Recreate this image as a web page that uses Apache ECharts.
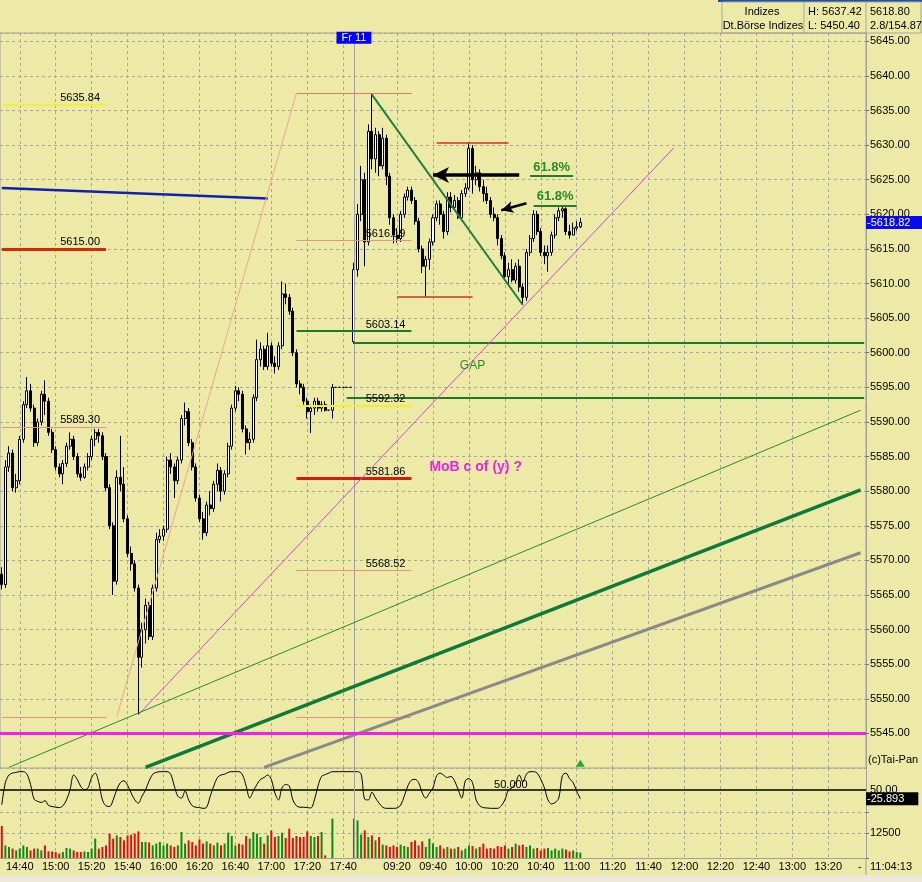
<!DOCTYPE html>
<html><head><meta charset="utf-8">
<script src="https://cdn.jsdelivr.net/npm/echarts/dist/echarts.min.js"></script>
<style>html,body{margin:0;padding:0;background:#EDEAA8;}#c{width:922px;height:882px;}</style>
</head><body><div id="c"></div>
<script>
// ---------- sessions & tick labels ----------
const sessionDay1 = ['14:30', '17:44'];
const sessionDay2 = ['08:56', '13:40'];
const tickLabels = ['14:40','15:00','15:20','15:40','16:00','16:20','16:40','17:00','17:20','17:40',
  '09:20','09:40','10:00','10:20','10:40','11:00','11:20','11:40','12:00','12:20','12:40','13:00','13:20'];

// ---------- 2-minute candles [open, close, low, high] ----------
const priceDay1 = [
[5568.0,5566.5,5565.8,5569.0],[5566.5,5583.5,5566.0,5584.5],[5583.5,5585.5,5582.8,5586.5],[5585.5,5580.5,5580.0,5586.0],
[5580.5,5581.5,5579.8,5582.5],[5581.5,5587.5,5581.0,5588.0],[5587.5,5592.5,5587.0,5593.0],[5592.5,5594.5,5592.0,5596.5],
[5594.5,5592.0,5591.5,5595.5],[5592.0,5587.0,5586.4,5592.5],[5587.0,5590.0,5586.5,5590.5],[5590.0,5594.0,5589.5,5594.5],
[5594.0,5593.0,5591.0,5596.0],[5593.0,5588.5,5588.0,5593.5],[5588.5,5586.0,5585.5,5589.0],[5586.0,5583.5,5583.0,5586.5],
[5583.5,5582.5,5582.0,5584.0],[5582.5,5584.0,5581.0,5584.5],[5584.0,5586.5,5583.5,5587.0],[5586.5,5587.5,5586.0,5588.5],
[5587.5,5585.0,5584.5,5588.0],[5585.0,5582.5,5582.0,5585.5],[5582.5,5582.0,5581.5,5583.5],[5582.0,5583.5,5581.8,5584.0],
[5583.5,5585.0,5583.0,5585.5],[5585.0,5587.5,5584.5,5588.0],[5587.5,5588.5,5586.5,5589.0],[5588.5,5588.0,5587.0,5589.0],
[5588.0,5585.0,5584.5,5588.5],[5585.0,5580.5,5580.0,5585.5],[5580.5,5575.0,5574.5,5581.0],[5575.0,5567.0,5565.0,5575.5],
[5567.0,5582.0,5566.5,5583.0],[5582.0,5581.0,5580.0,5588.0],[5581.0,5576.0,5575.5,5583.5],[5576.0,5571.0,5570.5,5576.5],
[5571.0,5569.5,5568.5,5572.0],[5569.5,5566.0,5565.5,5570.0],[5566.0,5556.0,5547.7,5566.5],[5556.0,5560.0,5554.5,5561.0],
[5560.0,5563.5,5558.0,5564.5],[5563.5,5559.0,5558.5,5564.0],[5559.0,5566.0,5558.5,5566.5],[5566.0,5573.0,5565.5,5574.0],
[5573.0,5573.5,5572.5,5574.5],[5573.5,5574.5,5572.8,5575.0],[5574.5,5584.5,5574.0,5585.0],[5584.5,5583.5,5582.5,5585.5],
[5583.5,5581.5,5579.0,5584.0],[5581.5,5584.5,5581.0,5585.0],[5584.5,5590.5,5584.0,5591.0],[5590.5,5591.5,5589.5,5592.8],
[5591.5,5587.0,5586.5,5592.0],[5587.0,5583.5,5583.0,5587.5],[5583.5,5579.0,5578.5,5584.0],[5579.0,5576.0,5575.5,5579.5],
[5576.0,5574.0,5573.0,5577.0],[5574.0,5578.0,5573.5,5578.5],[5578.0,5577.5,5576.5,5580.0],[5577.5,5581.0,5577.0,5581.5],
[5581.0,5583.0,5580.0,5584.0],[5583.0,5580.0,5578.5,5583.5],[5580.0,5582.5,5579.5,5583.0],[5582.5,5586.5,5582.0,5587.0],
[5586.5,5592.0,5586.0,5592.5],[5592.0,5594.5,5591.5,5595.2],[5594.5,5594.0,5593.0,5595.0],[5594.0,5589.0,5588.5,5594.5],
[5589.0,5587.0,5585.3,5589.5],[5587.0,5587.5,5586.0,5588.5],[5587.5,5593.5,5587.0,5594.0],[5593.5,5599.0,5593.0,5601.9],
[5599.0,5600.5,5598.0,5601.5],[5600.5,5598.0,5597.5,5601.0],[5598.0,5601.0,5597.5,5602.9],[5601.0,5598.5,5598.0,5601.5],
[5598.5,5598.0,5597.0,5599.5],[5598.0,5601.0,5597.5,5601.5],[5601.0,5608.5,5600.5,5610.3],[5608.5,5608.0,5607.0,5610.0],
[5608.0,5606.0,5605.5,5608.5],[5606.0,5600.0,5599.5,5606.5],[5600.0,5595.5,5595.0,5600.5],[5595.5,5595.0,5594.0,5596.0],
[5595.0,5593.0,5592.5,5595.5],[5593.0,5591.5,5590.5,5593.5],[5591.5,5592.0,5588.4,5592.5],[5592.0,5593.0,5591.0,5593.5],
[5593.0,5592.0,5591.5,5593.5],[5592.0,5592.5,5591.5,5593.0],[5592.5,5591.7,5591.5,5593.0],[5591.7,5591.7,5591.7,5591.7],
[5591.7,5595.0,5590.5,5595.5],[5595.0,5595.0,5595.0,5595.0],[5595.0,5595.0,5595.0,5595.0],[5595.0,5595.0,5595.0,5595.0],
[5595.0,5595.0,5595.0,5595.0],[5595.0,5595.0,5595.0,5595.0]
];
const priceDay2 = [
[5601.6,5612.0,5601.3,5613.0],[5612.0,5620.0,5611.0,5621.5],[5620.0,5625.0,5619.0,5627.0],[5625.0,5616.0,5612.5,5626.0],
[5616.0,5632.0,5615.5,5633.0],[5632.0,5628.0,5626.5,5637.4],[5628.0,5631.5,5626.0,5632.5],[5631.5,5627.0,5625.5,5632.0],
[5627.0,5631.0,5626.5,5632.5],[5631.0,5625.5,5624.2,5631.5],[5625.5,5619.5,5618.5,5626.0],[5619.5,5617.0,5615.8,5620.0],
[5617.0,5616.5,5615.9,5618.0],[5616.5,5620.0,5616.0,5620.5],[5620.0,5622.5,5619.5,5623.0],[5622.5,5623.5,5622.0,5624.0],
[5623.5,5622.0,5621.5,5624.0],[5622.0,5619.0,5618.5,5622.5],[5619.0,5615.0,5614.5,5619.5],[5615.0,5612.5,5611.5,5615.5],
[5612.5,5613.5,5608.1,5614.0],[5613.5,5616.0,5612.0,5616.5],[5616.0,5619.5,5615.5,5620.0],[5619.5,5621.5,5619.0,5622.0],
[5621.5,5620.0,5618.5,5622.0],[5620.0,5617.5,5616.5,5620.5],[5617.5,5622.5,5617.0,5623.2],[5622.5,5621.0,5620.3,5623.2],
[5621.0,5622.0,5620.8,5622.8],[5622.0,5619.5,5619.3,5622.5],[5619.5,5623.0,5619.0,5623.5],[5623.0,5623.8,5622.5,5624.5],
[5623.8,5629.5,5623.5,5630.3],[5629.5,5625.0,5623.0,5630.0],[5625.0,5626.0,5624.2,5627.0],[5626.0,5624.0,5623.3,5626.5],
[5624.0,5623.0,5621.8,5625.0],[5623.0,5622.0,5621.5,5624.0],[5622.0,5620.0,5619.5,5622.5],[5620.0,5619.5,5619.0,5621.0],
[5619.5,5616.5,5615.5,5620.0],[5616.5,5614.0,5613.5,5617.0],[5614.0,5611.0,5610.8,5614.5],[5611.0,5612.0,5609.8,5613.0],
[5612.0,5610.5,5610.2,5613.5],[5610.5,5612.5,5610.0,5613.0],[5612.5,5609.5,5608.8,5613.5],[5609.5,5608.0,5606.9,5610.0],
[5608.0,5614.5,5607.5,5615.0],[5614.5,5616.5,5614.0,5617.0],[5616.5,5620.0,5616.0,5620.6],[5620.0,5617.5,5617.0,5620.5],
[5617.5,5614.5,5614.0,5618.0],[5614.5,5614.0,5612.8,5615.5],[5614.0,5614.5,5611.7,5615.5],[5614.5,5617.0,5614.0,5617.5],
[5617.0,5619.5,5616.5,5620.0],[5619.5,5620.5,5619.0,5621.0],[5620.5,5620.8,5619.5,5621.2],[5620.8,5617.5,5617.0,5621.0],
[5617.5,5617.0,5616.5,5618.5],[5617.0,5618.0,5617.0,5618.8],[5618.0,5618.2,5617.6,5619.0],[5618.2,5618.82,5618.0,5619.5]
];
const lastPrice = 5618.82;

// ---------- oscillator (0..100) ----------
const oscValues = [
10,70,91,96,98,100,100,93,65,25, 19,16,21,8,5,3,2,7,23,51, 91,79,59,51,56,84,96,70,23,7,
5,23,51,70,75,63,42,23,14,33, 50,75,93,98,100,100,100,93,61,33, 28,47,23,7,3,2,0,3,33,61,
84,91,93,98,100,100,100,91,61,28, 47,65,79,84,91,79,42,23,56,65, 61,23,7,3,3,2,1,23,61,87,
92,96,100,100,100,100,100,100,
100,100,93,25,23,44,28,14,3,0, 0,0,1,9,33,61,77,79,70,42, 28,42,56,89,96,90,84,87,75,51,
28,75,81,70,23,7,2,1,0,0, 0,7,23,50,56,70,91,72,93,100, 100,96,79,56,23,12,16,28,89,96,
81,70,47,25.9
];
const oscLast = 25.893;
const oscMid = 50;

// ---------- volume ----------
const volumeValues = [
16000,6300,5500,4700,3800,4700,6300,5500,3800,4700, 4700,3800,6300,3300,3300,3000,2200,3000,5000,4700,
3800,3000,3000,3300,3000,4700,9700,4700,5500,6300, 12200,9700,11300,10500,8800,11300,11700,12200,13300,8000,
8000,7700,6300,7200,8000,6300,7200,6300,5500,6300, 13000,7200,8800,8000,6300,9300,7200,8300,7200,6300,
7700,6300,7200,12700,11000,6300,7200,6700,11000,9700, 13000,12200,10500,7200,11300,13800,10500,11000,12700,10000,
14700,10000,11000,10500,10500,13300,11000,10500,11000,13000, 1300,0,19700,0,0,0,0,0,
19700,18800,11700,13800,10500,11300,8800,10500,6700,6300, 5500,6300,5500,6700,6000,5500,8000,8800,6300,8300,
5500,9700,7200,5500,6300,4700,5500,4700,4700,5500, 3800,4700,6300,6000,4700,5500,7200,4700,5000,4700,
6000,5500,6300,4700,5500,7200,6300,6700,5500,6300, 4700,5000,3800,4700,5000,3800,4700,3800,4700,4200,
3300,3800,3000,2700
];
const volumeTick = 12500;

// ---------- drawn annotations (time, price) ----------
const leftLevels = [ // [from, to, price, text]
  ['14:30','15:28',5635.84,'5635.84'],
  ['14:30','15:28',5615.00,'5615.00'],
  ['14:30','15:28',5589.30,'5589.30'],
  ['14:30','15:28',5547.4,'']
];
const fibLevels = [
  ['17:14','09:28',5637.5,''],
  ['17:14','09:28',5603.14,'5603.14'],
  ['17:14','09:28',5592.32,'5592.32'],
  ['17:14','09:28',5581.86,'5581.86'],
  ['17:14','09:28',5568.52,'5568.52'],
  ['17:14','09:28',5547.4,'']
];
const hiddenLevel = ['17:14','09:28',5616.19,'5616.19'];
const pivotLines = [['09:42','10:22',5630.3],['09:20','10:02',5608.1]];
const gapLines = [['08:56','13:40',5601.4],['17:42','13:40',5593.5]];
const trendLines = [ // [t1, p1, t2, p2]
  ['14:30',5623.8,'16:58',5622.3],
  ['15:34',5547.4,'17:14',5637.5],
  ['09:06',5637.3,'10:30',5606.9],
  ['15:46',5547.7,'11:54',5629.6],
  ['14:34',5540.1,'13:38',5591.7],
  ['15:50',5540.1,'13:38',5580.2],
  ['16:56',5540.1,'13:38',5571.1]
];
const supportLevel = 5545;
const arrows = [['10:28',5625.7,'09:40',5625.7],['10:32',5621.6,'10:18',5620.6]];
const fibTexts = [['10:34','10:58',5625.6,'61.8%'],['10:36','11:00',5621.3,'61.8%']];
const gapText = ['10:02',5598.1,'GAP'];
const waveText = ['09:38',5583.5,'MoB c of (y) ?'];
const dayMarker = ['08:56',5645.5,'Fr 11'];
const signalMark = ['11:02',5540.7];
const osc50Text = ['10:14',50,'50.000'];

// ---------- build ----------
function buildSlots(s) {
  const toMin = t => (+t.slice(0,2))*60 + (+t.slice(3));
  const out = [];
  for (let m = toMin(s[0]); m <= toMin(s[1]); m += 2)
    out.push(String(Math.floor(m/60)).padStart(2,'0') + ':' + String(m%60).padStart(2,'0'));
  return out;
}
const categories = buildSlots(sessionDay1).concat(buildSlots(sessionDay2));
const tickSet = new Set(tickLabels);
const candles = priceDay1.concat(priceDay2);
const FONT = "'Liberation Sans', Arial, sans-serif";
const GRID_C = '#a9a898';
const GREEN = '#118a11', RED = '#e01010';

const levelStyles = {
  left: [{color:'#f3ef3a',width:2},{color:'#d42a0a',width:3},{color:'#e8927c',width:1},{color:'#e8927c',width:1}],
  fib: [{color:'#e07a64',width:1},{color:'#1b7b2b',width:2},{color:'#f4f024',width:2},{color:'#d41c0c',width:3},{color:'#e8927c',width:1},{color:'#e8927c',width:1}],
  trend: [{color:'#1020b0',width:2.5},{color:'#eca592',width:1},{color:'#1f7f3f',width:2},{color:'#dd44dd',width:1},
          {color:'#2a8a2a',width:1},{color:'#0f7a3a',width:3.5},{color:'#8a8a8a',width:3}]
};

function seg(t1, p1, t2, p2, ls, text, lab) {
  return [
    {coord:[t1,p1], lineStyle: Object.assign({type:'solid'}, ls),
     label: text ? Object.assign({show:true, formatter:text, position:'insideEndTop', distance:[6,1],
       color:'#000', fontSize:11, fontFamily:FONT}, lab||{}) : {show:false}},
    {coord:[t2,p2]}
  ];
}
const annoLines = [];
leftLevels.forEach((d,i) => annoLines.push(seg(d[0],d[2],d[1],d[2],levelStyles.left[i],d[3])));
fibLevels.forEach((d,i) => annoLines.push(seg(d[0],d[2],d[1],d[2],levelStyles.fib[i],d[3])));
pivotLines.forEach(d => annoLines.push(seg(d[0],d[2],d[1],d[2],{color:'#d43020',width:1.5})));
gapLines.forEach(d => annoLines.push(seg(d[0],d[2],d[1],d[2],{color:'#1b7b2b',width:2})));
trendLines.forEach((d,i) => annoLines.push(seg(d[0],d[1],d[2],d[3],levelStyles.trend[i])));
annoLines.push({yAxis: supportLevel, lineStyle:{color:'#f020f0',width:3,type:'solid'}, label:{show:false}});
arrows.forEach((d,i) => annoLines.push([
  {coord:[d[0],d[1]], symbol:'none', lineStyle:{color:'#000',width:i?2.5:3.5,type:'solid'}, label:{show:false}},
  {coord:[d[2],d[3]], symbol:'arrow', symbolSize: i ? [9,12] : [12,16]}
]));
fibTexts.forEach(d => annoLines.push(seg(d[0],d[2],d[1],d[2],{color:'#1f7f2f',width:2}, d[3],
  {position:'insideMiddleTop', color:'#2b8a2b', fontWeight:'bold', fontSize:13, distance:2})));

const belowLines = [seg(hiddenLevel[0],hiddenLevel[2],hiddenLevel[1],hiddenLevel[2],{color:'#e8927c',width:1},hiddenLevel[3])];

const sepLine = {xAxis: dayMarker[0], lineStyle:{color:'#a0a0a0',width:1,type:'solid'}, label:{show:false}};
const HIDDEN_LINE = {color:'rgba(0,0,0,0)', width:0};

const volData = volumeValues.map((v,i) => ({value:v, itemStyle:{color: candles[i][1] >= candles[i][0] ? GREEN : RED}}));

function xAxisOf(gi) {
  return {
    type:'category', gridIndex:gi, data:categories, boundaryGap:true,
    axisLine:{show: gi===2, lineStyle:{color:'#a0a0a0'}},
    axisTick:{show:false},
    axisLabel:{show: gi===2, interval:(i,v)=>tickSet.has(v), color:'#000', fontSize:11, fontFamily:FONT, margin:3, hideOverlap:false},
    splitLine:{show:true, alignWithLabel:true, interval:(i,v)=>tickSet.has(v), lineStyle:{color:GRID_C, type:[3,3], width:1}}
  };
}

const option = {
  animation:false,
  backgroundColor:'#EDEAA8',
  textStyle:{fontFamily:FONT},
  grid:[
    {left:0, top:33, width:866, height:735, show:true, borderColor:'#a0a0a0', borderWidth:1, containLabel:false, outerBoundsMode:'none'},
    {left:0, top:768, width:866, height:44, containLabel:false, outerBoundsMode:'none'},
    {left:0, top:812, width:866, height:46, containLabel:false, outerBoundsMode:'none'}
  ],
  xAxis:[xAxisOf(0), xAxisOf(1), xAxisOf(2)],
  yAxis:[
    {type:'value', gridIndex:0, position:'right', min:5540, max:5646.2, interval:5,
     axisLine:{show:true, lineStyle:{color:'#a0a0a0'}}, axisTick:{show:true, length:3, lineStyle:{color:'#707070'}},
     axisLabel:{color:'#000', fontSize:11, fontFamily:FONT, margin:4, showMaxLabel:false, showMinLabel:false,
       formatter:v => (Math.abs(v/5 - Math.round(v/5)) < 1e-6 && v > 5541) ? v.toFixed(2) : ''},
     splitLine:{show:true, lineStyle:{color:GRID_C, type:[3,3]}}},
    {type:'value', gridIndex:1, position:'right', min:-10, max:110, interval:10,
     axisLine:{show:true, lineStyle:{color:'#a0a0a0'}}, axisTick:{show:false},
     axisLabel:{color:'#000', fontSize:11, fontFamily:FONT, margin:4, formatter:v => v === oscMid ? '50.00' : ''},
     splitLine:{show:false}},
    {type:'value', gridIndex:2, position:'right', min:0, max:23000, interval:volumeTick,
     axisLine:{show:true, lineStyle:{color:'#a0a0a0'}}, axisTick:{show:true, length:3, lineStyle:{color:'#707070'}},
     axisLabel:{color:'#000', fontSize:11, fontFamily:FONT, margin:4, formatter:v => v === volumeTick ? String(volumeTick) : ''},
     splitLine:{show:true, lineStyle:{color:GRID_C, type:[3,3]}}}
  ],
  series:[
    {type:'line', name:'levelsBelow', xAxisIndex:0, yAxisIndex:0, data:[], z:1,
     markLine:{silent:true, symbol:['none','none'], animation:false, label:{show:false}, data:belowLines}},
    {type:'candlestick', name:'DAX', xAxisIndex:0, yAxisIndex:0, data:candles, z:3, barWidth:'70%',
     itemStyle:{color:'#ffffff', color0:'#000000', borderColor:'#000000', borderColor0:'#000000', borderWidth:1},
     markLine:{silent:true, symbol:['none','none'], animation:false, data:[sepLine]}},
    {type:'line', name:'annotations', xAxisIndex:0, yAxisIndex:0, data:[], z:5,
     markLine:{silent:true, symbol:['none','none'], animation:false, label:{show:false}, data:annoLines.concat([
       {yAxis:lastPrice, lineStyle:HIDDEN_LINE, label:{show:true, position:'end', distance:0, formatter:'-' + lastPrice.toFixed(2),
         backgroundColor:'#0a0af0', color:'#fff', fontSize:11, fontFamily:FONT, padding:[1,14,1,1]}}
     ])},
     markPoint:{silent:true, animation:false, data:[
       {coord:[gapText[0],gapText[1]], symbol:'circle', symbolSize:0,
        label:{show:true, position:'inside', formatter:gapText[2], color:'#2a8a2a', fontSize:12, fontFamily:FONT}},
       {coord:[waveText[0],waveText[1]], symbol:'circle', symbolSize:0,
        label:{show:true, position:'inside', align:'left', formatter:waveText[2], color:'#ea22ea', fontSize:14, fontWeight:'bold', fontFamily:FONT}},
       {coord:[dayMarker[0],dayMarker[1]], symbol:'circle', symbolSize:0,
        label:{show:true, position:'inside', formatter:dayMarker[2], color:'#fff', backgroundColor:'#0000ff', fontSize:11, fontFamily:FONT, padding:[1,5,0,5]}},
       {coord:[signalMark[0],signalMark[1]], symbol:'triangle', symbolSize:[9,7], itemStyle:{color:'#22aa22'}, label:{show:false}}
     ]}},
    {type:'line', name:'Oscillator', xAxisIndex:1, yAxisIndex:1, data:oscValues, symbol:'none', smooth:0.35,
     lineStyle:{color:'#000', width:1}, z:3,
     markLine:{silent:true, symbol:['none','none'], animation:false, data:[
       {yAxis:oscMid, lineStyle:{color:'#000', width:1.5, type:'solid'}, label:{show:false}},
       sepLine,
       {yAxis:oscLast, lineStyle:HIDDEN_LINE, label:{show:true, position:'end', distance:0, formatter:'-' + oscLast.toFixed(3),
         backgroundColor:'#000', color:'#fff', fontSize:11, fontFamily:FONT, padding:[1,14,1,1]}}
     ]},
     markPoint:{silent:true, animation:false, data:[
       {coord:[osc50Text[0],osc50Text[1]], symbol:'circle', symbolSize:0,
        label:{show:true, position:'inside', align:'left', verticalAlign:'bottom', formatter:osc50Text[2], color:'#000', fontSize:11, fontFamily:FONT}}
     ]}},
    {type:'bar', name:'Volume', xAxisIndex:2, yAxisIndex:2, data:volData, barWidth:2, z:3,
     markLine:{silent:true, symbol:['none','none'], animation:false, data:[sepLine]}}
  ],
  graphic:[
    {type:'rect', silent:true, shape:{x:0, y:875, width:922, height:7}, style:{fill:'#ECE9D8'}},
    {type:'line', silent:true, shape:{x1:866, y1:858, x2:866, y2:875}, style:{stroke:'#a0a0a0', lineWidth:1}},
    {type:'text', silent:true, x:858, y:867, style:{text:'-', fill:'#000', font:"11px 'Liberation Sans', Arial", verticalAlign:'middle'}},
    {type:'text', silent:true, x:870, y:867, style:{text:'11:04:13', fill:'#000', font:"11px 'Liberation Sans', Arial", verticalAlign:'middle'}},
    {type:'text', silent:true, x:868, y:760, style:{text:'(c)Tai-Pan', fill:'#000', font:"11px 'Liberation Sans', Arial", verticalAlign:'middle'}},
    {type:'rect', silent:true, shape:{x:718, y:0, width:204, height:2}, style:{fill:'#2050b0'}},
    {type:'rect', silent:true, shape:{x:722, y:2, width:199, height:31}, style:{fill:'none', stroke:'#a8a898', lineWidth:1}},
    {type:'line', silent:true, shape:{x1:804, y1:2, x2:804, y2:33}, style:{stroke:'#a8a898', lineWidth:1}},
    {type:'line', silent:true, shape:{x1:866, y1:2, x2:866, y2:33}, style:{stroke:'#a8a898', lineWidth:1}},
    {type:'text', silent:true, x:762, y:12, style:{text:'Indizes', fill:'#000', font:"11px 'Liberation Sans', Arial", align:'center', verticalAlign:'middle'}},
    {type:'text', silent:true, x:763, y:26, style:{text:'Dt.Börse Indizes', fill:'#000', font:"11px 'Liberation Sans', Arial", align:'center', verticalAlign:'middle'}},
    {type:'text', silent:true, x:808, y:12, style:{text:'H: 5637.42', fill:'#000', font:"11px 'Liberation Sans', Arial", verticalAlign:'middle'}},
    {type:'text', silent:true, x:808, y:26, style:{text:'L: 5450.40', fill:'#000', font:"11px 'Liberation Sans', Arial", verticalAlign:'middle'}},
    {type:'text', silent:true, x:870, y:12, style:{text:'5618.80', fill:'#000', font:"11px 'Liberation Sans', Arial", verticalAlign:'middle'}},
    {type:'text', silent:true, x:870, y:26, style:{text:'2.8/154.87', fill:'#000', font:"11px 'Liberation Sans', Arial", verticalAlign:'middle'}}
  ]
};
const chart = echarts.init(document.getElementById('c'), null, {renderer:'canvas'});
chart.setOption(option);
</script>
</body></html>
